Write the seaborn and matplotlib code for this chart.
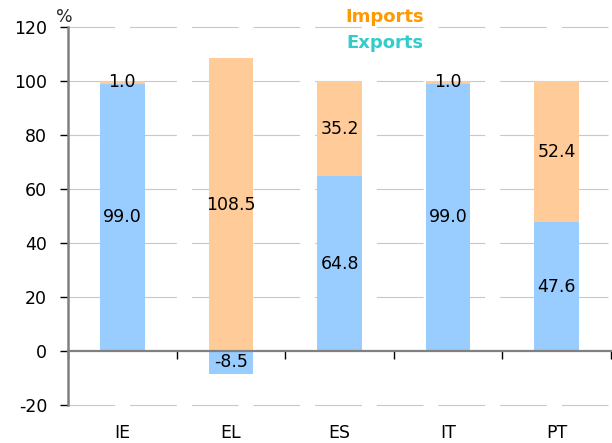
import matplotlib
matplotlib.use("Agg")
import matplotlib.pyplot as plt
import matplotlib.transforms as mtransforms
import numpy as np
import pandas as pd
import seaborn as sns

# Contributions to the change, in percent
countries = ["IE", "EL", "ES", "IT", "PT"]
exports = [99.0, -8.5, 64.8, 99.0, 47.6]
imports = [1.0, 108.5, 35.2, 1.0, 52.4]
y_ticks = [-20, 0, 20, 40, 60, 80, 100, 120]

EXP_COLOR = "#99CCFF"
IMP_COLOR = "#FFCC99"

sns.set_theme(style="white")
plt.rcParams["font.family"] = ["DejaVu Sans"]

exp = np.array(exports)
imp = np.array(imports)
# imports stack on top of the positive part of exports
imp_base = np.clip(exp, 0, None)
imp_top = imp_base + imp

df = pd.DataFrame({"country": countries, "exports": exp, "imp_top": imp_top})

fig = plt.figure(figsize=(6.12, 4.43), dpi=100)
ax = fig.add_axes([68 / 612, 1 - 405 / 443, (611 - 68) / 612, (405 - 27) / 443])

sns.barplot(data=df, x="country", y="imp_top", color=IMP_COLOR, width=0.41,
            saturation=1, ax=ax, zorder=2, linewidth=0)
sns.barplot(data=df, x="country", y="exports", color=EXP_COLOR, width=0.41,
            saturation=1, ax=ax, zorder=3, linewidth=0)

ax.set_xlim(-0.5, len(countries) - 0.5)
ax.set_ylim(-20, 120)

# dashed horizontal grid behind the bars
for v in y_ticks:
    if v == 0:
        continue
    ax.plot([-0.5, len(countries) - 0.5], [v, v], color="#C8C8C8", lw=0.8,
            dashes=(42, 13.5), zorder=1, solid_capstyle="butt",
            clip_on=False)

ax.set_yticks(y_ticks)
ax.set_yticklabels([str(v) for v in y_ticks], fontsize=12.5)
ax.set_xlabel("")
ax.set_ylabel("")

# segment labels centred in each stacked piece
for i in range(len(countries)):
    ax.text(i, exp[i] / 2, f"{exp[i]:.1f}", ha="center", va="center",
            fontsize=12.5, color="black", zorder=5)
    ax.text(i, imp_base[i] + imp[i] / 2, f"{imp[i]:.1f}", ha="center",
            va="center", fontsize=12.5, color="black", zorder=5)

# category axis sits at zero, with ticks on the category boundaries
for s in ["top", "right"]:
    ax.spines[s].set_visible(False)
ax.spines["bottom"].set_position(("data", 0))
ax.spines["bottom"].set_color("#808080")
ax.spines["bottom"].set_linewidth(1.6)
ax.spines["bottom"].set_zorder(4)
ax.spines["left"].set_color("#808080")
ax.spines["left"].set_linewidth(1.8)
ax.spines["left"].set_zorder(4)
ax.set_xticks(np.arange(len(countries) + 1) - 0.5)
ax.set_xticklabels([])
ax.tick_params(axis="x", direction="out", length=6, width=1, color="black",
               bottom=True)
ax.tick_params(axis="y", direction="out", length=6, width=1, color="black",
               left=True, pad=9, labelcolor="black")

trans = mtransforms.blended_transform_factory(ax.transData, fig.transFigure)
for i, c in enumerate(countries):
    ax.text(i, 1 - 433 / 443, c, transform=trans, ha="center", va="center",
            fontsize=12.5, color="black")

fig.text(64 / 612, 1 - 17 / 443, "%", ha="center", va="center", fontsize=12.5)
fig.text(385 / 612, 1 - 17 / 443, "Imports", ha="center", va="center",
         fontsize=13, fontweight="bold", color="#FF9900")
fig.text(385 / 612, 1 - 43 / 443, "Exports", ha="center", va="center",
         fontsize=13, fontweight="bold", color="#33CCCC")

fig.savefig("out.png", dpi=100)
